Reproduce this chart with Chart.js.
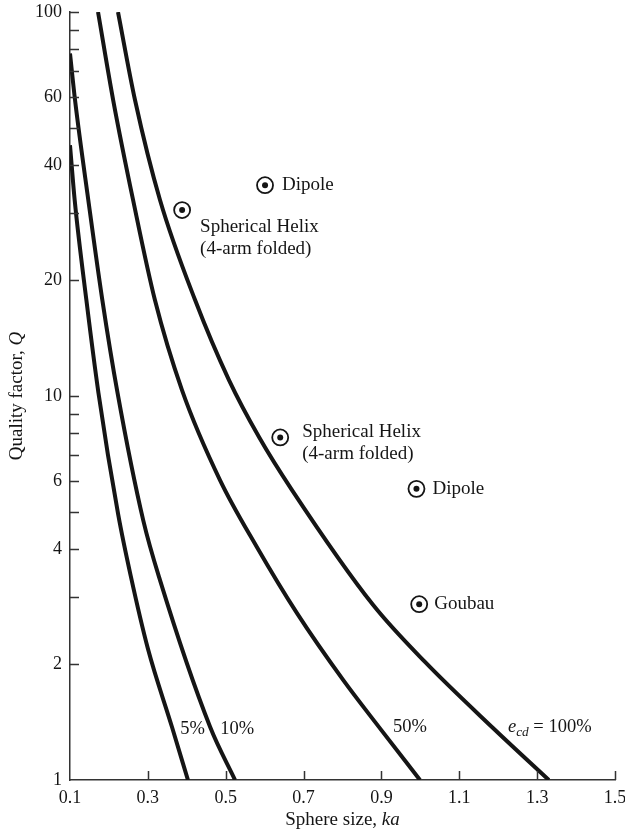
<!DOCTYPE html>
<html>
<head>
<meta charset="utf-8">
<script src="https://cdn.jsdelivr.net/npm/chart.js@4/dist/chart.umd.min.js"></script>
<style>
  html, body { margin: 0; padding: 0; background: #fff; }
  #wrap { width: 625px; height: 840px; }
</style>
</head>
<body>
<div id="wrap"><canvas id="qChart"></canvas></div>
<script>
// Curves: quality factor Q vs sphere size ka, one per efficiency
const ka100 = [0.2233, 0.267, 0.3312, 0.4211, 0.5084, 0.5855, 0.6703, 0.8783, 1.0119, 1.1866, 1.33];
const q100  = [100, 59.0, 32.4, 17.8, 11.0, 7.82, 5.69, 2.86, 2.03, 1.366, 1.0];
const ka50  = [0.172, 0.211, 0.262, 0.318, 0.3877, 0.4853, 0.5796, 0.683, 0.802, 0.8963, 0.999];
const q50   = [100, 58.9, 32.4, 17.8, 10.36, 6.04, 4.05, 2.72, 1.82, 1.363, 1.0];
const ka10  = [0.1, 0.113, 0.147, 0.183, 0.222, 0.288, 0.331, 0.46, 0.524];
const q10   = [78, 58.9, 32.4, 17.8, 10.2, 4.75, 3.32, 1.374, 1.0];
const ka5   = [0.1, 0.112, 0.142, 0.173, 0.224, 0.256, 0.300, 0.362, 0.403];
const q5    = [45, 32.4, 17.8, 10.2, 4.9, 3.4, 2.2, 1.374, 1.0];

// Measured antennas
const antennaNames = ['Dipole', 'Spherical Helix', 'Spherical Helix', 'Dipole', 'Goubau'];
const antennaKa = [0.601, 0.388, 0.64, 0.99, 0.997];
const antennaQ  = [35.4, 30.5, 7.8, 5.73, 2.87];

// Axis ticks
const xTicks = [0.1, 0.3, 0.5, 0.7, 0.9, 1.1, 1.3, 1.5];
const yTicks = [1, 2, 3, 4, 5, 6, 7, 8, 9, 10, 20, 30, 40, 50, 60, 70, 80, 90, 100];
const yLabels = [1, 2, 4, 6, 10, 20, 40, 60, 100];

const INK = '#151515';
const SERIF = '"Liberation Serif", "DejaVu Serif", serif';

function pts(xs, ys) {
    return xs.map((x, i) => ({ x: x, y: ys[i] }));
}

function curve(xs, ys) {
    return {
        type: 'line',
        data: pts(xs, ys),
        showLine: true,
        borderColor: INK,
        borderWidth: 4,
        pointRadius: 0,
        fill: false,
        cubicInterpolationMode: 'monotone'
    };
}

// text placement (pixel offsets from the marker)
const antennaText = [
    { dx: 17, dy: 0, lines: [antennaNames[0]] },
    { dx: 18, dy: 17, lines: [antennaNames[1], '(4-arm folded)'] },
    { dx: 22, dy: -5, lines: [antennaNames[2], '(4-arm folded)'] },
    { dx: 16, dy: 0, lines: [antennaNames[3]] },
    { dx: 15, dy: 0, lines: [antennaNames[4]] }
];
const curveText = [
    { x: 0.383, y: 1.358, runs: [{ t: '5%' }] },
    { x: 0.486, y: 1.358, runs: [{ t: '10%' }] },
    { x: 0.930, y: 1.374, runs: [{ t: '50%' }] },
    { x: 1.225, y: 1.374, runs: [{ t: 'e', it: true }, { t: 'cd', it: true, sub: true }, { t: ' = 100%' }] }
];

function setFont(ctx, r, size) {
    const s = r.sub ? size * 0.72 : size;
    ctx.font = (r.it ? 'italic ' : '') + s + 'px ' + SERIF;
}

function drawRuns(ctx, runs, x, y, size) {
    let cx = x;
    runs.forEach(r => {
        setFont(ctx, r, size);
        ctx.fillText(r.t, cx, y + (r.sub ? size * 0.3 : 0));
        cx += ctx.measureText(r.t).width;
    });
}

function runsWidth(ctx, runs, size) {
    let w = 0;
    runs.forEach(r => {
        setFont(ctx, r, size);
        w += ctx.measureText(r.t).width;
    });
    return w;
}

// inward tick marks on both axes
const tickMarks = {
    id: 'tickMarks',
    afterDatasetsDraw(chart) {
        const ctx = chart.ctx;
        const x = chart.scales.x, y = chart.scales.y;
        const area = chart.chartArea;
        ctx.save();
        ctx.strokeStyle = '#333';
        ctx.lineWidth = 1.5;
        ctx.beginPath();
        y.ticks.forEach(t => {
            if (t.value === 1) return;
            const py = Math.round(y.getPixelForValue(t.value)) + 0.5;
            ctx.moveTo(area.left, py);
            ctx.lineTo(area.left + 9, py);
        });
        x.ticks.forEach(t => {
            if (t.value === 0.1) return;
            const px = Math.round(x.getPixelForValue(t.value)) + 0.5;
            ctx.moveTo(px, area.bottom);
            ctx.lineTo(px, area.bottom - 9);
        });
        ctx.stroke();
        ctx.restore();
    }
};

const labels = {
    id: 'labels',
    afterDraw(chart) {
        const ctx = chart.ctx;
        const x = chart.scales.x, y = chart.scales.y;
        const area = chart.chartArea;
        ctx.save();
        ctx.fillStyle = INK;
        ctx.textBaseline = 'middle';
        ctx.textAlign = 'left';

        // antenna labels
        antennaText.forEach((a, i) => {
            const px = x.getPixelForValue(antennaKa[i]) + a.dx;
            const py = y.getPixelForValue(antennaQ[i]) + a.dy;
            ctx.font = '19px ' + SERIF;
            a.lines.forEach((line, j) => ctx.fillText(line, px, py + j * 22));
        });

        // curve labels
        curveText.forEach(c => {
            drawRuns(ctx, c.runs, x.getPixelForValue(c.x), y.getPixelForValue(c.y), 18.5);
        });

        // x axis title
        const xTitle = [{ t: 'Sphere size, ' }, { t: 'ka', it: true }];
        const xw = runsWidth(ctx, xTitle, 19);
        drawRuns(ctx, xTitle, (area.left + area.right) / 2 - xw / 2, 820, 19);

        // y axis title
        const yTitle = [{ t: 'Quality factor, ' }, { t: 'Q', it: true }];
        const yw = runsWidth(ctx, yTitle, 19);
        ctx.translate(17, (area.top + area.bottom) / 2);
        ctx.rotate(-Math.PI / 2);
        drawRuns(ctx, yTitle, -yw / 2, 0, 19);
        ctx.restore();
    }
};

new Chart(document.getElementById('qChart'), {
    type: 'scatter',
    data: {
        datasets: [
            {
                data: pts(antennaKa, antennaQ),
                pointStyle: 'circle',
                pointRadius: 3,
                pointBackgroundColor: INK,
                pointBorderWidth: 0
            },
            {
                data: pts(antennaKa, antennaQ),
                pointStyle: 'circle',
                pointRadius: 8,
                pointBackgroundColor: '#fff',
                pointBorderColor: INK,
                pointBorderWidth: 1.8
            },
            curve(ka5, q5),
            curve(ka10, q10),
            curve(ka50, q50),
            curve(ka100, q100)
        ]
    },
    options: {
        responsive: true,
        maintainAspectRatio: false,
        animation: false,
        layout: { padding: { top: 12, right: 10, left: 0, bottom: 0 } },
        plugins: {
            legend: { display: false },
            tooltip: { enabled: false }
        },
        scales: {
            x: {
                type: 'linear',
                min: 0.1,
                max: 1.5,
                afterBuildTicks: s => { s.ticks = xTicks.map(v => ({ value: v })); },
                afterFit: s => { s.height = 60; s.paddingLeft = 0; s.paddingRight = 0; },
                grid: { display: false, drawTicks: false },
                border: { display: true, color: '#333', width: 1.5 },
                ticks: {
                    autoSkip: false,
                    maxRotation: 0,
                    padding: 7,
                    color: INK,
                    font: { family: SERIF, size: 18 },
                    callback: v => v.toFixed(1)
                }
            },
            y: {
                type: 'logarithmic',
                min: 1,
                max: 100,
                afterBuildTicks: s => { s.ticks = yTicks.map(v => ({ value: v })); },
                afterFit: s => { s.width = 70; s.paddingTop = 0; s.paddingBottom = 0; },
                grid: { display: false, drawTicks: false },
                border: { display: true, color: '#333', width: 1.5 },
                ticks: {
                    autoSkip: false,
                    padding: 8,
                    color: INK,
                    font: { family: SERIF, size: 18 },
                    callback: v => yLabels.includes(v) ? String(v) : ''
                }
            }
        }
    },
    plugins: [tickMarks, labels]
});
</script>
</body>
</html>
